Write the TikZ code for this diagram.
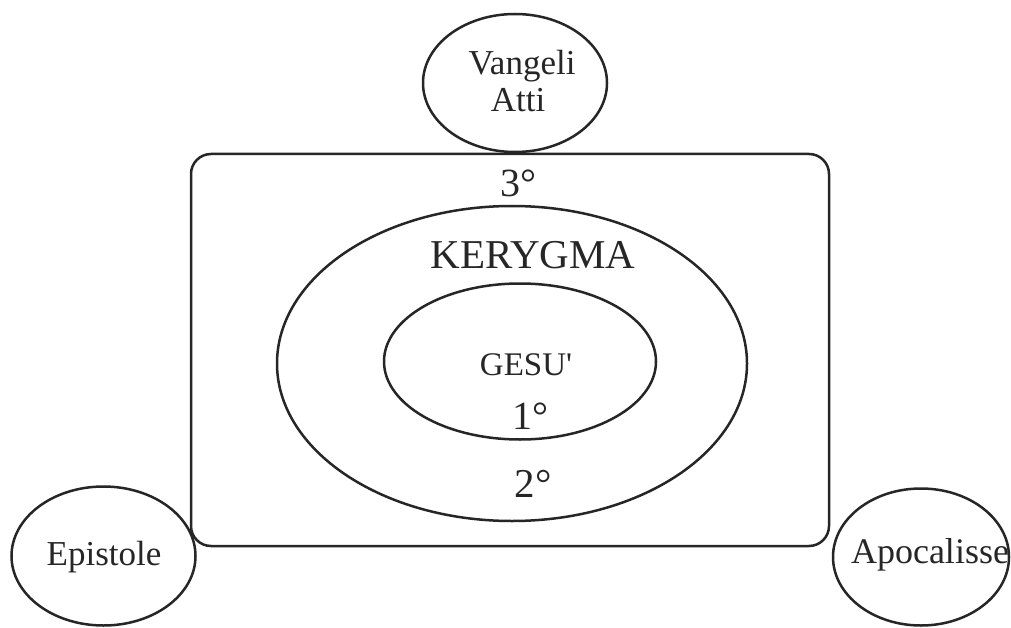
\documentclass[tikz,border=0pt]{standalone}
\usepackage{fontspec}
\setmainfont{Liberation Serif}
\usetikzlibrary{shapes.geometric}
\begin{document}
\begin{tikzpicture}[x=1pt,y=-1pt,
  shape line/.style={draw=black!85, line width=2.5pt},
  oval/.style={shape line, ellipse, inner sep=0pt},
  lbl/.style={anchor=base, inner sep=0pt, text=black!85}]
\useasboundingbox (0,0) rectangle (1011,628);
% frame
\node[shape line, rounded corners=20pt, minimum width=638pt, minimum height=392pt, inner sep=0pt] (frame) at (510,350) {};
% ellipses
\node[oval, minimum width=470pt, minimum height=315pt] (kerygma) at (512,363.5) {};
\node[oval, minimum width=272pt, minimum height=156pt] (gesu) at (520,361.5) {};
\node[oval, minimum width=184pt, minimum height=138pt] (vangeli) at (515,83) {};
\node[oval, minimum width=184pt, minimum height=139pt] (epistole) at (103.5,556) {};
\node[oval, minimum width=176pt, minimum height=137pt] (apocalisse) at (921,557) {};
% labels
\node[lbl, font=\fontsize{35}{37}\selectfont] (tv) at (522,75) {Vangeli};
\node[lbl, font=\fontsize{35}{37}\selectfont] (ta) at (518,112) {Atti};
\node[lbl, font=\fontsize{40}{44}\selectfont] (t3) at (518,197) {3°};
\node[lbl, font=\fontsize{41}{44}\selectfont] (tk) at (533,269) {KERYGMA};
\node[lbl, font=\fontsize{33}{36}\selectfont] (tg) at (526,375) {GESU\textquotesingle};
\node[lbl, font=\fontsize{40}{44}\selectfont] (t1) at (530,429) {1°};
\node[lbl, font=\fontsize{41}{44}\selectfont] (t2) at (533,497) {2°};
\node[lbl, font=\fontsize{35}{37}\selectfont] (te) at (104,565) {Epistole};
\node[lbl, font=\fontsize{36}{38}\selectfont] (tap) at (930,563) {Apocalisse};
\end{tikzpicture}
\end{document}
